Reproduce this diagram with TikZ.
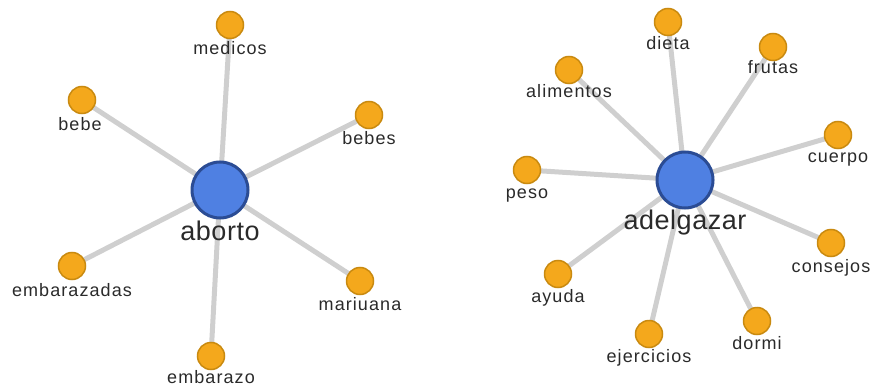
\documentclass[tikz,border=0pt]{standalone}
\usepackage{fontspec}
\setmainfont{Liberation Sans}
\newfontfamily\lblfont[LetterSpace=6]{Liberation Sans}
\newfontfamily\hubfont[LetterSpace=2]{Liberation Sans}
\definecolor{edgegray}{HTML}{CFCFCF}
\definecolor{leaffill}{HTML}{F4A81C}
\definecolor{leafdraw}{HTML}{C98A10}
\definecolor{hubfill}{HTML}{4F80E2}
\definecolor{hubdraw}{HTML}{2B4C94}
\definecolor{txt}{HTML}{2A2A2A}
\begin{document}
\begin{tikzpicture}[x=1pt,y=-1pt,
  leaf/.style={circle,fill=leaffill,draw=leafdraw,line width=1.5pt,minimum size=27pt,inner sep=0pt},
  hub/.style={circle,fill=hubfill,draw=hubdraw,line width=3pt,minimum size=56pt,inner sep=0pt},
  lbl/.style={font=\lblfont\fontsize{18}{18}\selectfont,text=txt,inner sep=0pt,anchor=base},
  hublbl/.style={font=\hubfont\fontsize{27}{27}\selectfont,text=txt,inner sep=0pt,anchor=base},
  link/.style={draw=edgegray,line width=5pt}]
\useasboundingbox (0,0) rectangle (874,390);
% left graph
\coordinate (A) at (220,190);
\coordinate (m1) at (230,25);
\coordinate (m2) at (82,100);
\coordinate (m3) at (369,115);
\coordinate (m4) at (72,266);
\coordinate (m5) at (360,281);
\coordinate (m6) at (211,356);
% right graph
\coordinate (B) at (685,180);
\coordinate (n1) at (668,22);
\coordinate (n2) at (773,47);
\coordinate (n3) at (569,70);
\coordinate (n4) at (838,135);
\coordinate (n5) at (527,170);
\coordinate (n6) at (831,243);
\coordinate (n7) at (558,274);
\coordinate (n8) at (757,321);
\coordinate (n9) at (649,334);
\foreach \t in {m1,m2,m3,m4,m5,m6} \path[link] (A) -- (\t);
\foreach \t in {n1,n2,n3,n4,n5,n6,n7,n8,n9} \path[link] (B) -- (\t);
\node[hub] (hA) at (A) {};
\node[hub] (hB) at (B) {};
\foreach \t in {m1,m2,m3,m4,m5,m6,n1,n2,n3,n4,n5,n6,n7,n8,n9} \node[leaf] (c\t) at (\t) {};
\node[hublbl] (tA) at (220,240) {aborto};
\node[hublbl] (tB) at (685,229) {adelgazar};
\node[lbl] (t1) at (230,55) {medicos};
\node[lbl] (t2) at (80,131) {bebe};
\node[lbl] (t3) at (369,145) {bebes};
\node[lbl] (t4) at (72,296) {embarazadas};
\node[lbl] (t5) at (360,310) {mariuana};
\node[lbl] (t6) at (211,383) {embarazo};
\node[lbl] (u1) at (668,50) {dieta};
\node[lbl] (u2) at (773,74) {frutas};
\node[lbl] (u3) at (569,98) {alimentos};
\node[lbl] (u4) at (838,163) {cuerpo};
\node[lbl] (u5) at (527,198) {peso};
\node[lbl] (u6) at (831,272) {consejos};
\node[lbl] (u7) at (558,302) {ayuda};
\node[lbl] (u8) at (757,349) {dormi};
\node[lbl] (u9) at (649,362) {ejercicios};
\end{tikzpicture}
\end{document}
